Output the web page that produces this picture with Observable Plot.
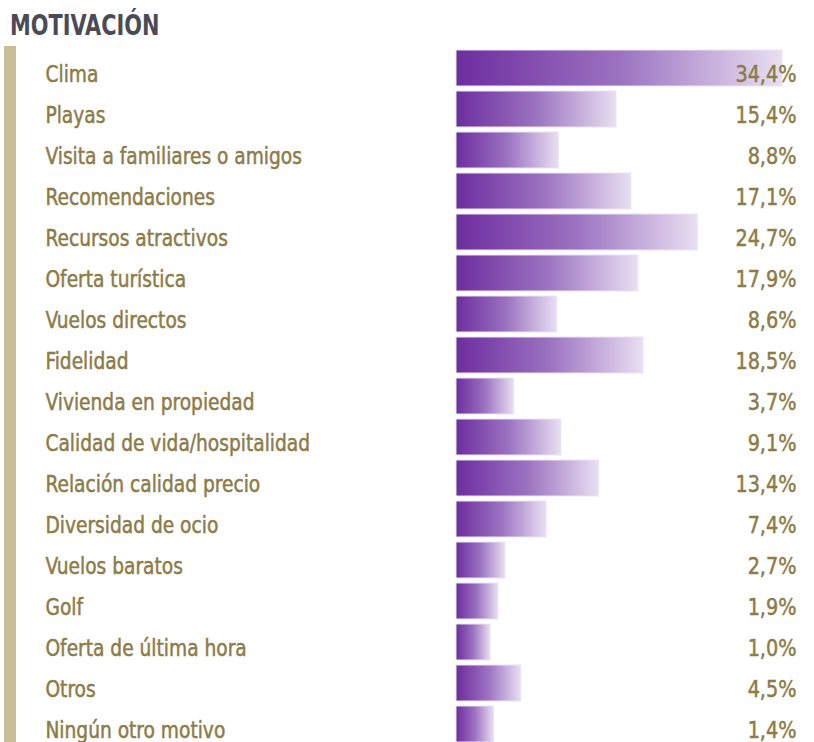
<!DOCTYPE html>
<html>
<head>
<meta charset="utf-8">
<script src="https://cdn.jsdelivr.net/npm/d3@7"></script>
<script src="https://cdn.jsdelivr.net/npm/@observablehq/plot@0.6"></script>
<style>
  html, body { margin: 0; padding: 0; background: #fff; overflow: hidden; }
  #wrap { position: relative; width: 814px; height: 742px; overflow: hidden; }
  #title { position: absolute; left: 10px; top: 8px; font-family: "DejaVu Sans Condensed", sans-serif; font-weight: bold; font-size: 29px; line-height: 34px; color: #4b4b57; transform: scaleX(0.8); transform-origin: 0 0; white-space: nowrap; }
  #side { position: absolute; left: 4px; top: 46px; width: 12px; bottom: 0; background: #c8bd94; }
  #chart { position: absolute; left: 0; top: 44px; }
</style>
</head>
<body>
<div id="wrap">
  <div id="title">MOTIVACIÓN</div>
  <div id="side"></div>
  <div id="chart"></div>
</div>
<script>
const categories = [
  "Clima", "Playas", "Visita a familiares o amigos", "Recomendaciones",
  "Recursos atractivos", "Oferta turística", "Vuelos directos", "Fidelidad",
  "Vivienda en propiedad", "Calidad de vida/hospitalidad", "Relación calidad precio",
  "Diversidad de ocio", "Vuelos baratos", "Golf", "Oferta de última hora",
  "Otros", "Ningún otro motivo"
];
const values = [34.4, 15.4, 8.8, 17.1, 24.7, 17.9, 8.6, 18.5, 3.7, 9.1, 13.4, 7.4, 2.7, 1.9, 1.0, 4.5, 1.4];
const axisStart = -2.9;

const data = categories.map((c, i) => ({category: c, value: values[i]}));
const fmt = v => v.toFixed(1).replace(".", ",") + "%";

const textColor = "#8c7c48";
const font = '"DejaVu Sans Condensed", sans-serif';

const chart = Plot.plot({
  width: 814,
  height: 710,
  margin: 0,
  style: {background: "transparent", fontFamily: font},
  x: {domain: [axisStart, d3.max(values)], range: [456, 782], axis: null},
  y: {domain: categories, range: [0.5, 0.5 + 17 * 41.4], paddingInner: 0.12, paddingOuter: 0.06, axis: null},
  marks: [
    Plot.barX(data, {y: "category", x1: axisStart, x2: "value", fill: "url(#barGrad)", stroke: "#ebe3f2", strokeWidth: 1}),
    Plot.text(data, {y: "category", text: "category", frameAnchor: "left", dx: 45, dy: 13, lineAnchor: "bottom", textAnchor: "start", fill: textColor, stroke: textColor, strokeWidth: 0.5, fontSize: 23}),
    Plot.text(data, {y: "category", text: d => fmt(d.value), frameAnchor: "right", dx: -18, dy: 13, lineAnchor: "bottom", textAnchor: "end", fill: textColor, stroke: textColor, strokeWidth: 0.5, fontSize: 23})
  ]
});

const svg = d3.select(chart);
const defs = svg.insert("defs", ":first-child");
const grad = defs.append("linearGradient").attr("id", "barGrad").attr("x1", "0").attr("x2", "1").attr("y1", "0").attr("y2", "0");
grad.append("stop").attr("offset", "0").attr("stop-color", "#6d2d9f");
grad.append("stop").attr("offset", "0.5").attr("stop-color", "#9b72c0");
grad.append("stop").attr("offset", "1").attr("stop-color", "#e9dff2");

// condense the text horizontally, anchored at its own edge
const textGroups = chart.querySelectorAll('g[aria-label="text"]');
const squeeze = (g, ax, k) => {
  const w = document.createElementNS("http://www.w3.org/2000/svg", "g");
  w.setAttribute("transform", `translate(${ax},0) scale(${k},1) translate(${-ax},0)`);
  g.parentNode.insertBefore(w, g);
  w.appendChild(g);
};
squeeze(textGroups[0], 45, 0.9);
squeeze(textGroups[1], 796, 0.93);

document.getElementById("chart").appendChild(chart);
</script>
</body>
</html>
